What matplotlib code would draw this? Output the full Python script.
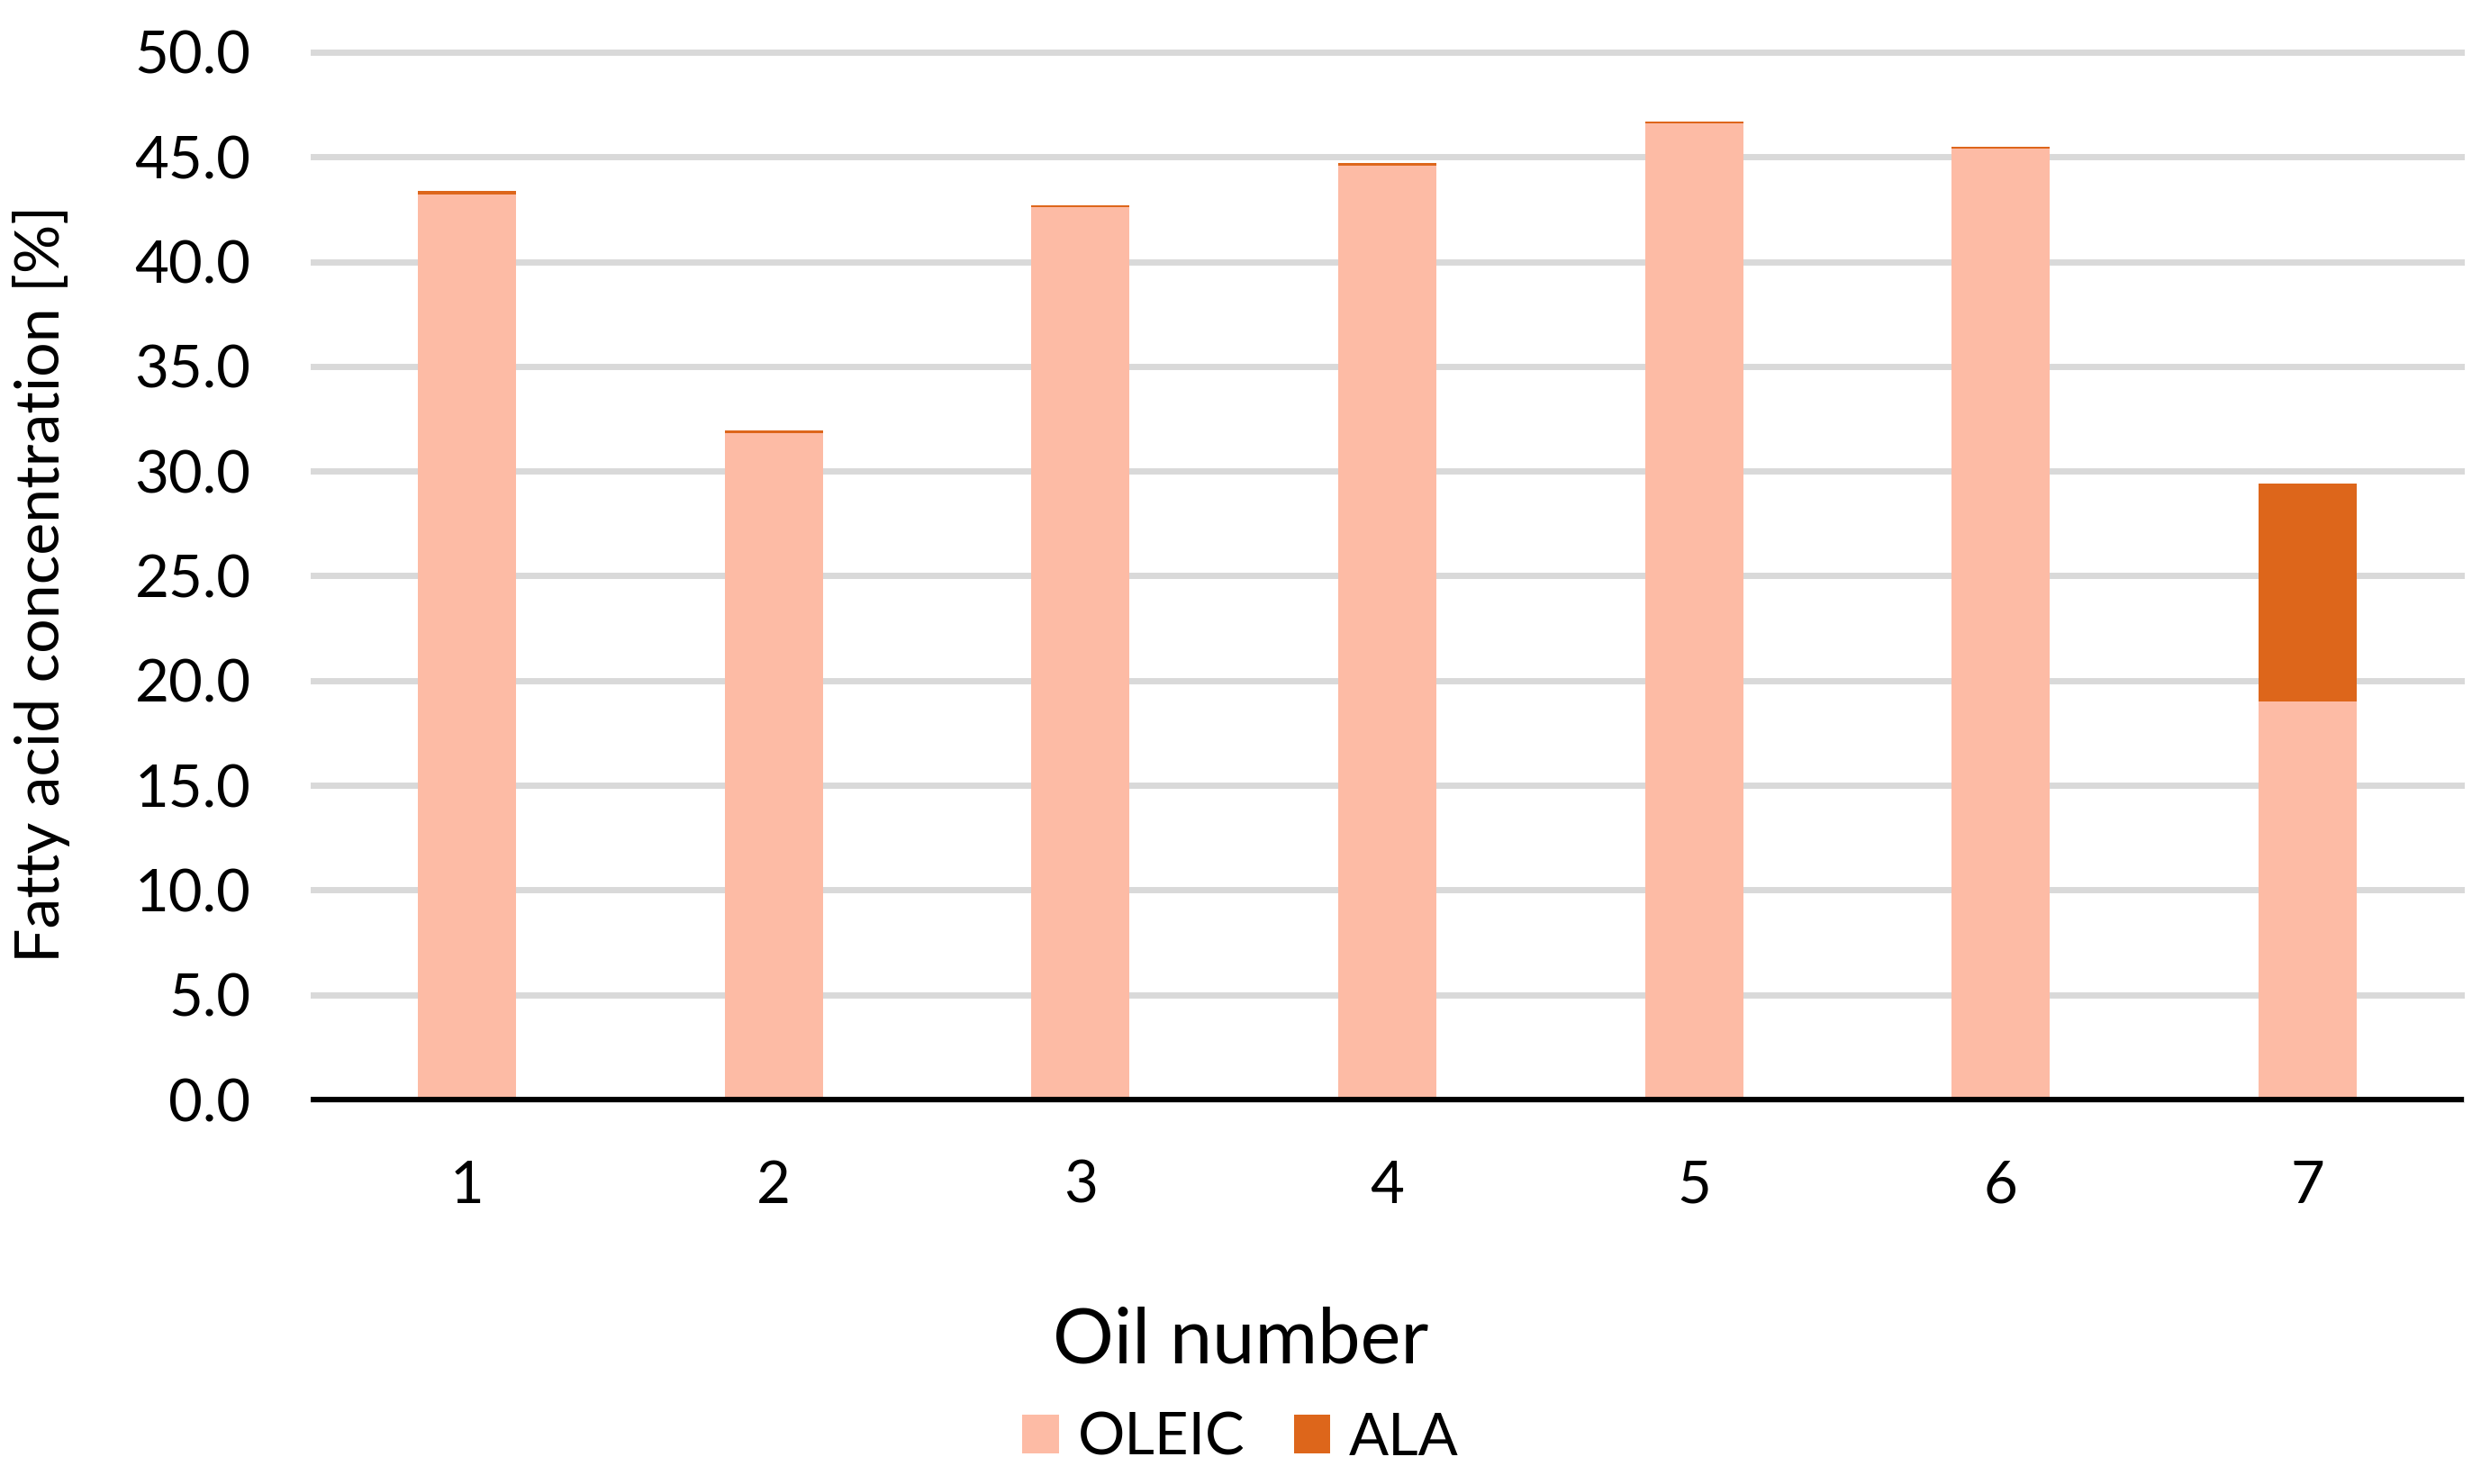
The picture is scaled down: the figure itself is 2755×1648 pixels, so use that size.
import numpy as np
import matplotlib
matplotlib.use('Agg')
import matplotlib.pyplot as plt
from matplotlib.ticker import FormatStrFormatter, MultipleLocator

plt.rcParams['font.family'] = ['Lato', 'DejaVu Sans']

oils = ['1', '2', '3', '4', '5', '6', '7']
oleic = [43.2, 31.8, 42.6, 44.6, 46.6, 45.4, 19.0]
ala = [0.17, 0.13, 0.09, 0.13, 0.09, 0.09, 10.4]

c_oleic = '#FDBBA5'
c_ala = '#DD661B'

fig = plt.figure(figsize=(27.55, 16.48), dpi=100)
ax = fig.add_axes([348/2755, 1 - 1221/1648, (2733-348)/2755, (1221-58)/1648])

x = np.arange(len(oils))
ax.bar(x, oleic, width=0.32, color=c_oleic, label='OLEIC', zorder=2)
ax.bar(x, ala, width=0.32, bottom=oleic, color=c_ala, label='ALA', zorder=2)

ax.set_xlim(-0.5, len(oils) - 0.5)
ax.set_ylim(0, 50)
ax.yaxis.set_major_locator(MultipleLocator(5))
ax.yaxis.set_major_formatter(FormatStrFormatter('%.1f'))
ax.set_xticks(x)
ax.set_xticklabels(oils)

ax.set_axisbelow(True)
ax.grid(axis='y', color='#D9D9D9', linewidth=5)
for gl in ax.get_ygridlines():
    gl.set_clip_on(False)

for s in ['top', 'right', 'left']:
    ax.spines[s].set_visible(False)
ax.spines['bottom'].set_linewidth(4.3)
ax.spines['bottom'].set_color('black')
ax.spines['bottom'].set_zorder(3)

ax.tick_params(axis='both', length=0, labelsize=47)
ax.tick_params(axis='y', pad=50)
ax.tick_params(axis='x', pad=48)

fig.text(46/2755, 1 - 648/1648, 'Fatty acid concentration [%]', rotation=90,
         ha='center', va='center', fontsize=49)
fig.text(0.5, 1 - 1513/1648, 'Oil number', ha='center', va='baseline', fontsize=61)

fig.legend(loc='center', bbox_to_anchor=(0.5, 1 - 1597/1648), ncol=2, frameon=False,
           fontsize=47, handlelength=0.62, handleheight=0.62, handletextpad=0.32,
           columnspacing=0.83, borderpad=0)

fig.savefig('out.png', dpi=100)
